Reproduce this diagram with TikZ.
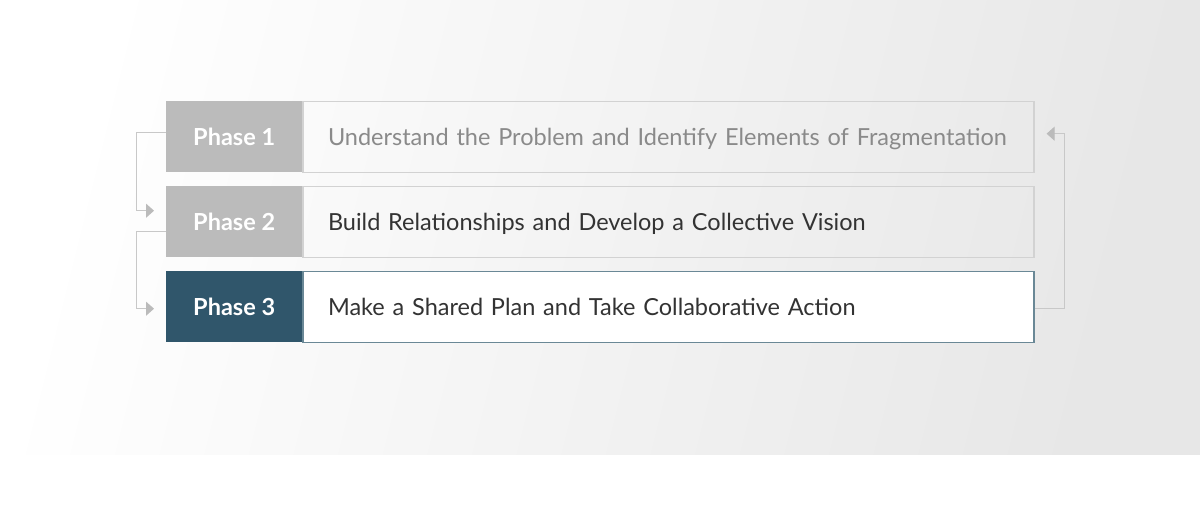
\documentclass[tikz,border=0pt]{standalone}
\usepackage{fontspec}
\setmainfont{Lato}
\usetikzlibrary{positioning,arrows.meta}
\definecolor{labgrey}{HTML}{BBBBBB}
\definecolor{labteal}{HTML}{30566B}
\definecolor{framegrey}{HTML}{D2D2D2}
\definecolor{frameteal}{HTML}{6A8896}
\definecolor{linkgrey}{HTML}{C8C8C8}
\definecolor{tipgrey}{HTML}{BBBBBB}
\definecolor{fadetext}{HTML}{8A8A8A}
\definecolor{darktext}{HTML}{333333}

\begin{document}
\begin{tikzpicture}[x=1pt,y=-1pt,
  phase/.style={fill=#1,text=white,font=\bfseries\fontsize{23.5}{27}\selectfont,
    minimum width=136pt,minimum height=71pt,inner sep=0pt,text depth=0pt,anchor=north west},
  task/.style={draw=#1,line width=1.2pt,minimum width=731pt,minimum height=71pt,
    inner ysep=0pt,inner xsep=25pt,text width=681pt,align=left,text depth=0pt,
    font=\fontsize{23.5}{27}\selectfont},
  link/.style={draw=linkgrey,line width=1pt,shorten >=12pt,
    -{Triangle[length=8pt,width=14pt,color=tipgrey]}}
  ]
\def\W{1200}
\def\H{530}
\def\band{454}
\def\gap{85}
\useasboundingbox (0,0) rectangle (\W,\H);
\fill[white] (0,0) rectangle (\W,\H);
\shade[top color=white,bottom color=black!9.5,shading angle=76] (0,0) rectangle (\W,\band);

\node[phase=labgrey] (lab1) at (166,101) {Phase 1};
\node[task=framegrey,right=0pt of lab1,text=fadetext] (task1) {Understand the Problem and Identify Elements of Fragmentation};
\node[phase=labgrey] (lab2) at (166,101+\gap) {Phase 2};
\node[task=framegrey,right=0pt of lab2,text=darktext] (task2) {Build Relationships and Develop a Collective Vision};
\node[phase=labteal] (lab3) at (166,101+2*\gap) {Phase 3};
\node[task=frameteal,fill=white,right=0pt of lab3,text=darktext] (task3) {Make a Shared Plan and Take Collaborative Action};

\draw[link] ([yshift=4pt]lab1.west) -- ++(-30,0) |- ([yshift=11pt]lab2.west);
\draw[link] ([yshift=-10pt]lab2.west) -- ++(-30,0) |- ([yshift=-2pt]lab3.west);
\draw[link] ([yshift=-2pt]task3.east) -- ++(30,0) |- ([yshift=3pt]task1.east);
\end{tikzpicture}
\end{document}
